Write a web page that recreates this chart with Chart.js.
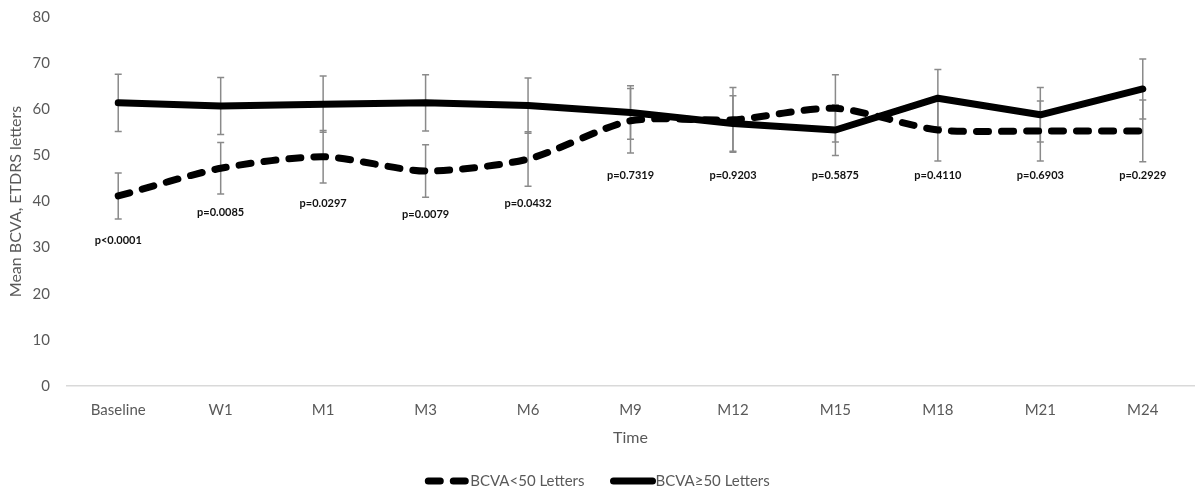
<!DOCTYPE html>
<html>
<head>
<meta charset="utf-8">
<script src="https://cdn.jsdelivr.net/npm/chart.js@4.4.1/dist/chart.umd.min.js"></script>
<style>
  html, body { margin: 0; padding: 0; background: #ffffff; }
  #wrap { width: 1195px; height: 492px; position: relative; }
</style>
</head>
<body>
<div id="wrap"><canvas id="c" width="1195" height="492"></canvas></div>
<script>
// ---- data ----
const categories = ['Baseline', 'W1', 'M1', 'M3', 'M6', 'M9', 'M12', 'M15', 'M18', 'M21', 'M24'];
const lowLabel = 'BCVA<50 Letters';
const highLabel = 'BCVA\u226550 Letters';
const lowValues  = [41.2, 47.2, 49.7, 46.6, 49.2, 57.5, 57.7, 60.2, 55.5, 55.3, 55.3];
const lowErr     = [5.0, 5.6, 5.7, 5.7, 5.9, 7.0, 7.0, 7.3, 6.7, 6.5, 6.7];
const highValues = [61.4, 60.7, 61.1, 61.4, 60.8, 59.3, 56.9, 55.5, 62.4, 58.8, 64.4];
const highErr    = [6.2, 6.2, 6.1, 6.1, 6.0, 5.8, 6.0, 5.5, 6.2, 5.9, 6.5];
const pLabels    = ['p<0.0001', 'p=0.0085', 'p=0.0297', 'p=0.0079', 'p=0.0432', 'p=0.7319', 'p=0.9203', 'p=0.5875', 'p=0.4110', 'p=0.6903', 'p=0.2929'];
const pLabelY    = [31.6, 37.6, 39.6, 37.1, 39.6, 45.7, 45.7, 45.7, 45.7, 45.7, 45.7];
const yMin = 0, yMax = 80, yStep = 10;

const FONT = 'Lato, "Open Sans", sans-serif';
const GREY = '#595959';

const errorBars = {
  id: 'errorBars',
  beforeDatasetsDraw(chart) {
    const ctx = chart.ctx, xs = chart.scales.x, ys = chart.scales.y;
    ctx.save();
    ctx.strokeStyle = '#8a8a8a';
    ctx.lineWidth = 1.5;
    ctx.setLineDash([]);
    chart.data.datasets.forEach(ds => {
      ds.data.forEach((v, i) => {
        const e = ds.errors[i];
        const x = xs.getPixelForValue(i);
        const yt = ys.getPixelForValue(v + e), yb = ys.getPixelForValue(v - e);
        ctx.beginPath();
        ctx.moveTo(x, yt); ctx.lineTo(x, yb);
        ctx.moveTo(x - 3.5, yt); ctx.lineTo(x + 3.5, yt);
        ctx.moveTo(x - 3.5, yb); ctx.lineTo(x + 3.5, yb);
        ctx.stroke();
      });
    });
    ctx.restore();
  }
};

const pText = {
  id: 'pText',
  afterDatasetsDraw(chart) {
    const ctx = chart.ctx, xs = chart.scales.x, ys = chart.scales.y;
    ctx.save();
    ctx.fillStyle = '#111111';
    ctx.font = 'bold 11px ' + FONT;
    ctx.textAlign = 'center';
    ctx.textBaseline = 'middle';
    pLabels.forEach((t, i) => {
      ctx.fillText(t, xs.getPixelForValue(i), ys.getPixelForValue(pLabelY[i]));
    });
    ctx.restore();
  }
};

const customLegend = {
  id: 'customLegend',
  afterDraw(chart) {
    const ctx = chart.ctx;
    const sample = 45, itemGap = 26;
    ctx.save();
    ctx.font = '15px ' + FONT;
    const items = chart.data.datasets.map(ds => ({ds, w: ctx.measureText(ds.label).width}));
    const total = items.reduce((s, it) => s + sample + it.w, 0) + itemGap * (items.length - 1);
    let x = chart.width / 2 - total / 2;
    const y = chart.height - 11;
    items.forEach(it => {
      ctx.strokeStyle = it.ds.borderColor;
      ctx.lineWidth = it.ds.borderWidth;
      ctx.lineCap = 'round';
      ctx.setLineDash(it.ds.borderDash || []);
      ctx.beginPath();
      ctx.moveTo(x + 3, y); ctx.lineTo(x + sample - 3, y);
      ctx.stroke();
      ctx.setLineDash([]);
      ctx.fillStyle = GREY;
      ctx.textAlign = 'left';
      ctx.textBaseline = 'middle';
      ctx.fillText(it.ds.label, x + sample, y);
      x += sample + it.w + itemGap;
    });
    ctx.restore();
  }
};

new Chart(document.getElementById('c'), {
  type: 'line',
  data: {
    labels: categories,
    datasets: [
      {
        label: lowLabel, data: lowValues, errors: lowErr,
        borderColor: '#000', backgroundColor: '#000', borderWidth: 7,
        borderDash: [12, 13], borderCapStyle: 'round', borderJoinStyle: 'round',
        pointRadius: 0, tension: 0.25, fill: false
      },
      {
        label: highLabel, data: highValues, errors: highErr,
        borderColor: '#000', backgroundColor: '#000', borderWidth: 7,
        borderCapStyle: 'round', borderJoinStyle: 'round',
        pointRadius: 0, tension: 0, fill: false
      }
    ]
  },
  options: {
    responsive: false,
    animation: false,
    layout: { padding: { top: 17, right: 1, left: 0, bottom: 45 } },
    plugins: { legend: { display: false }, tooltip: { enabled: false } },
    scales: {
      x: {
        offset: true,
        grid: { display: false, drawTicks: false, offset: true },
        border: { display: true, color: '#d9d9d9', width: 1.5 },
        ticks: { color: GREY, font: { family: FONT, size: 15 }, padding: 15, maxRotation: 0, autoSkip: false },
        title: { display: true, text: 'Time', color: GREY, font: { family: FONT, size: 16 }, padding: { top: 0, bottom: 0 } },
        afterFit(s) { s.height = 61; s.paddingLeft = 0; s.paddingRight = 0; }
      },
      y: {
        min: yMin, max: yMax,
        grid: { display: false, drawTicks: false },
        border: { display: false },
        ticks: { stepSize: yStep, color: GREY, font: { family: FONT, size: 15 }, padding: 17 },
        title: { display: true, text: 'Mean BCVA, ETDRS letters', color: GREY, font: { family: FONT, size: 16 }, padding: { top: 6, bottom: 0 } },
        afterFit(s) { s.width = 67; s.paddingTop = 0; s.paddingBottom = 0; }
      }
    }
  },
  plugins: [errorBars, pText, customLegend]
});
</script>
</body>
</html>
